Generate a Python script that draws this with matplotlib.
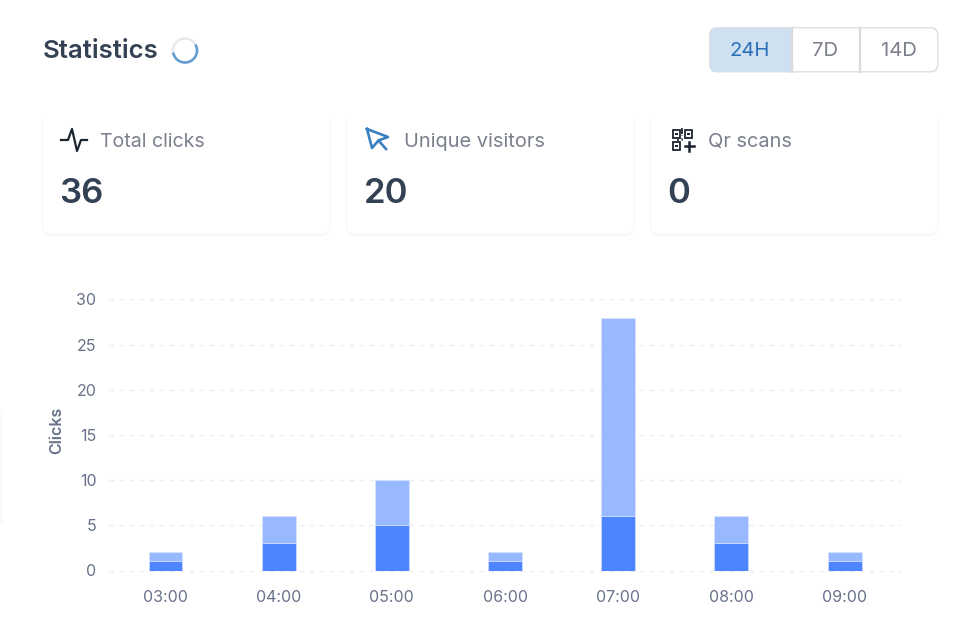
import matplotlib
matplotlib.use('Agg')
import matplotlib.pyplot as plt
from matplotlib.patches import FancyBboxPatch, Rectangle, Arc

plt.rcParams['font.family'] = ['Inter', 'DejaVu Sans']

# chart data
hours = ['03:00', '04:00', '05:00', '06:00', '07:00', '08:00', '09:00']
unique_clicks = [1, 3, 5, 1, 6, 3, 1]
repeat_clicks = [1, 3, 5, 1, 22, 3, 1]
y_ticks = [0, 5, 10, 15, 20, 25, 30]

# header cards
card_titles = ['Total clicks', 'Unique visitors', 'Qr scans']
card_values = ['36', '20', '0']
range_labels = ['24H', '7D', '14D']

DARK = '#334155'
GREY = '#7b808c'
TICK = '#68728a'

fig = plt.figure(figsize=(9.6, 6.21), dpi=100, facecolor='white')

# overlay in pixel coords for the dashboard parts
ui = fig.add_axes([0, 0, 1, 1])
ui.set_xlim(0, 960)
ui.set_ylim(621, 0)
ui.axis('off')


def rounded(x0, y0, x1, y1, r, **kw):
    p = FancyBboxPatch((x0 + r, y0 + r), x1 - x0 - 2 * r, y1 - y0 - 2 * r,
                       boxstyle=f'round,pad={r},rounding_size={r}', **kw)
    ui.add_patch(p)
    return p


ui.text(43, 52, 'Statistics', fontsize=18.5, fontweight='semibold', color=DARK, va='center')

# spinner
ui.add_patch(Arc((185, 50.5), 24, 24, theta1=0, theta2=360, color='#e8e9ec', lw=1.8))
ui.add_patch(Arc((185, 50.5), 24, 24, theta1=-30, theta2=170, color='#5f9bcf', lw=1.8))

# range buttons
rounded(709, 27, 938.5, 72.5, 8, fc='#dfe1e4', ec='none', zorder=1.5)
rounded(710.5, 28.5, 937, 71, 7, fc='white', ec='none', zorder=2)
rounded(710, 28, 792, 72, 7, fc='#cfe0f1', ec='none', zorder=2)
ui.add_patch(Rectangle((780, 28), 12, 44, fc='#cfe0f1', ec='none', zorder=2))
ui.plot([792, 792], [28, 72], color='#d8dadd', lw=1.6, zorder=3)
ui.plot([860, 860], [28, 72], color='#d8dadd', lw=1.6, zorder=3)
btn_x = [750, 825.5, 899]
btn_col = ['#2a70b8', GREY, GREY]
for lab, x, c in zip(range_labels, btn_x, btn_col):
    ui.text(x, 51.5, lab, fontsize=14.6, color=c, ha='center', va='center', zorder=4)

# stat cards
card_left = [43, 347, 651]
card_right = [330, 634, 938]
title_size = [14.1, 14.4, 14.4]
for i in range(3):
    rounded(card_left[i] - 1, 110, card_right[i] + 1, 235.5, 9, fc='#f7f7f8', ec='none', zorder=1)
    rounded(card_left[i], 106, card_right[i], 233.5, 9, fc='white', ec='none', zorder=1.5)
    text_x = [100, 404, 708.5][i]
    ui.text(text_x, 142, card_titles[i], fontsize=title_size[i], color=GREY, va='center', zorder=3)
    ui.text(card_left[i] + 16.5, 194, card_values[i], fontsize=25, fontweight='semibold',
            color=DARK, va='center', zorder=3)

# pulse icon
ui.plot([61, 68, 72, 77, 81, 87], [140, 140, 129, 151, 140, 140], color='#1c2430', lw=1.6,
        zorder=3, solid_joinstyle='round')
# cursor icon
ui.plot([367, 388, 378.5, 372, 367], [129, 137, 140.5, 148, 129], color='#3a7fc1', lw=1.9,
        zorder=3, solid_joinstyle='round')
ui.plot([378.5, 386], [140.5, 149], color='#3a7fc1', lw=1.9, zorder=3)
# qr icon
for qx, qy in [(672.5, 130), (684.5, 130), (672.5, 142)]:
    ui.add_patch(Rectangle((qx, qy), 7.5, 7.5, fc='none', ec='#1c2430', lw=1.3, zorder=3))
    ui.add_patch(Rectangle((qx + 2.5, qy + 2.5), 2.6, 2.6, fc='#1c2430', ec='none', zorder=3))
ui.plot([685, 693.5], [146, 146], color='#1c2430', lw=1.8, zorder=3)
ui.plot([689.2, 689.2], [142, 150.5], color='#1c2430', lw=1.8, zorder=3)
ui.plot([677, 682, 682], [139.5, 139.5, 135], color='#1c2430', lw=1.3, ls=':', zorder=3)
ui.plot([682, 682], [129, 133], color='#1c2430', lw=1.3, zorder=3)

# faint shadow on the left edge
ui.add_patch(Rectangle((0, 410), 3, 115, fc='#fafafa', ec='none'))

# bar chart
ax = fig.add_axes([108.9 / 960, 1 - 570.5 / 621, (901.2 - 108.9) / 960, 271 / 621])
ax.patch.set_alpha(0)
x = list(range(len(hours)))
ax.bar(x, unique_clicks, width=0.3, color='#4d84ff', edgecolor='#dbe6ff', linewidth=0.4, zorder=3)
ax.bar(x, repeat_clicks, width=0.3, bottom=unique_clicks, color='#98b9ff', edgecolor='#dbe6ff',
       linewidth=0.4, zorder=3)
ax.set_xlim(-0.5, 6.5)
ax.set_ylim(0, 30)
ax.set_yticks(y_ticks)
ax.set_xticks(x)
ax.set_xticklabels(hours)
ax.tick_params(axis='both', length=0, labelsize=11.5, labelcolor=TICK)
ax.tick_params(axis='x', pad=14)
ax.tick_params(axis='y', pad=9)
ax.grid(axis='y', color='#eceef1', lw=1, ls=(0, (3.6, 3.6)), zorder=0)
for s in ax.spines.values():
    s.set_visible(False)
for line in ax.get_ygridlines():
    line.set_clip_on(False)
ui.text(56.5, 430, 'Clicks', fontsize=11.5, fontweight='semibold', color=TICK, rotation=90,
        ha='center', va='center')

fig.savefig('out.png', dpi=100)
